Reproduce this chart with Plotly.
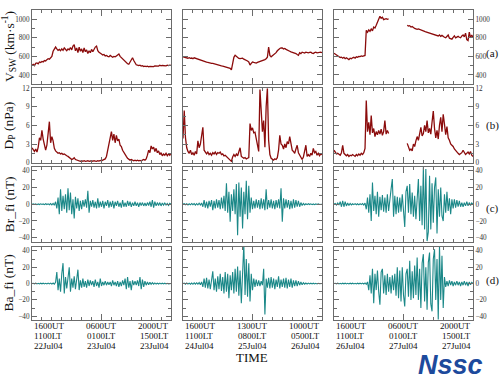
import plotly.graph_objects as go
import pandas as pd

# ---------------- data ----------------
col_start = ["2004-07-22 16:00", "2004-07-24 16:00", "2004-07-26 16:00"]
col_mid = ["2004-07-23 06:00", "2004-07-25 13:00", "2004-07-27 06:00"]
col_end = ["2004-07-23 20:00", "2004-07-26 10:00", "2004-07-27 20:00"]
minor_hours = [2, 3, 2]

ut_labels = [["1600UT", "0600UT", "2000UT"], ["1600UT", "1300UT", "1000UT"], ["1600UT", "0600UT", "2000UT"]]
lt_labels = [["1100LT", "0100LT", "1500LT"], ["1100LT", "0800LT", "0500LT"], ["1100LT", "0100LT", "1500LT"]]
date_labels = [["22Jul04", "23Jul04", "23Jul04"], ["24Jul04", "25Jul04", "26Jul04"], ["26Jul04", "27Jul04", "27Jul04"]]

row_titles = ["V<sub>SW</sub> (km·s<sup>-1</sup>)", "D<sub>P</sub> (nPa)", "Br_fi (nT)", "Ba_fi (nT)"]
row_tags = ["(a)", "(b)", "(c)", "(d)"]
row_ranges = [[300, 1100], [0, 12], [-45, 45], [-45, 45]]
row_ticks = [[400, 600, 800, 1000], [0, 3, 6, 9, 12], [-40, -20, 0, 20, 40], [-40, -20, 0, 20, 40]]
row_minor = [100, 1.5, 10, 10]

vsw_1 = [505, 515, 500, 525, 530, 520, 540, 535, 545, 540, 555, 550, 565, 575, 570, 590, 600, 655, 675, 700,
         680, 665, 675, 660, 680, 665, 690, 670, 660, 680, 670, 695, 670, 710, 725, 660, 690, 640, 700, 655,
         680, 640, 690, 650, 670, 630, 660, 640, 675, 650, 680, 700, 710, 660, 645, 630, 625, 615, 620, 605,
         610, 600, 595, 610, 600, 590, 600, 595, 605, 620, 625, 600, 585, 575, 560, 545, 530, 520, 515, 540,
         565, 585, 555, 530, 510, 505, 500, 505, 495, 500, 490, 495, 490, 495, 488, 492, 490, 495, 490, 498,
         495, 500, 495, 505, 498, 502, 500, 505, 498, 505, 500, 505, 502]
dp_1 = [2.4, 2.0, 1.8, 2.2, 1.7, 2.5, 4.0, 3.6, 5.2, 3.8, 3.0, 2.0, 2.8, 4.5, 6.6, 3.2, 4.2, 3.5, 2.3, 1.9,
        1.7, 1.5, 1.6, 1.4, 1.5, 1.3, 1.4, 1.2, 1.1, 1.0, 0.8, 0.7, 0.5, 0.6, 0.8, 0.5, 0.4, 0.3, 0.3, 0.2,
        0.3, 0.2, 0.3, 0.2, 0.25, 0.3, 0.2, 0.25, 0.3, 0.2, 0.3, 0.25, 0.2, 0.3, 0.25, 0.35, 0.3, 0.4, 0.5, 0.6,
        1.0, 2.0, 3.5, 4.0, 5.0, 3.6, 4.6, 3.2, 4.4, 3.5, 3.8, 2.8, 2.6, 2.0, 1.6, 1.2, 1.0, 0.7, 0.5, 0.4,
        0.5, 0.4, 0.3, 0.4, 0.3, 0.4, 0.3, 0.35, 0.3, 0.4, 0.5, 0.4, 0.6, 1.2, 2.0, 1.6, 2.7, 2.2, 2.5, 1.8,
        2.3, 1.6, 1.9, 1.3, 1.6, 1.1, 1.4, 1.2, 1.5, 1.1, 1.4, 1.2, 1.5]
br_1 = [0, 0.5, -0.3, 0.4, -0.5, 0.3, -0.4, 0.5, -0.3, 0.4, -0.5, 0.6, -0.4, 0.5, -0.6, 0.8, -0.7, 1.0, -1.2,
        3, -5, 8, -12, 18, -8, 10, -6, 12, -10, 19, -7, 14, -12, 6, -17, 9, -5, 7, -8, 4, -6, 5, -3, 6, -4,
        16, -10, 4, -3, 5, -4, 3, -5, 7, -4, 3, -3, 4, -5, 3, -2, 5, -4, 3, -3, 4, -5, 3, -2, 4, -3, 2, -4,
        5, -3, 2, -3, 4, -2, 3, -3, 2, -2, 3, -2, 2, -3, 2, -1.5, 2, -2, 1.5, -2, 2, -1.5, 3, -3, 5, -4, 3,
        -2, 2, -1.5, 2, -2, 1.5, -1, 1.5, -1, 1, -1.5, 1, 0]
ba_1 = [0, 0.4, -0.3, 0.5, -0.4, 0.3, -0.5, 0.4, -0.3, 0.5, -0.4, 0.3, -0.5, 0.6, -0.4, 0.5, -0.6, 0.7, -0.8, 1.5,
        14, -8, 6, -10, 12, 25, -12, 8, -6, 10, 20, -10, 6, -5, 9, -7, 5, 17, -8, 4, -5, 6, -4, 3, -5, 5,
        -3, 4, -2, 3, -4, 5, -3, 2, -5, 6, -3, 2, -2, 3, -2, 2, -1.5, 2, -3, 4, -2, 2, -3, 3, -4, 2, -3, 4,
        -2, 6, -7, 8, -5, 3, -8, 4, -2, 3, -2, 4, -3, 8, -7, 5, -4, 3, -2, 2, -1.5, 1.5, -1, 1, -0.8, 0.8,
        -0.6, 0.6, -0.5, 0.5, -0.5, 0.4, -0.5, 0.4, -0.4, 0.3, -0.4, 0.3, 0]

vsw_2 = [595, 590, 585, 588, 580, 585, 578, 582,
         575, 585, 580, 570, 565, 560, 555, 550,
         550, 545, 540, 538, 535, 530, 528, 525,
         525, 520, 515, 512, 510, 505, 500, 498,
         495, 490, 485, 482, 478, 475, 472, 455,
         540, 590, 612, 600, 585, 578, 575, 578,
         580, 570, 565, 560, 550, 540, 507, 525,
         540, 535, 530, 528, 535, 540, 548, 545,
         555, 560, 565, 575, 590, 700, 610, 595,
         605, 620, 630, 640, 660, 675, 685, 690,
         690, 680, 685, 675, 665, 660, 655, 648,
         645, 640, 635, 630, 620, 612, 640, 630,
         645, 640, 635, 645, 640, 638, 642, 645,
         635, 630, 640, 645, 638, 642, 640, 645, 640]
dp_2 = [3.9, 8.4, 4.0, 2.4, 1.8, 1.5, 2.0, 1.3, 1.6, 1.2, 1.8, 1.4, 3.5, 2.4, 3.0, 4.6, 5.7, 2.0, 1.6, 1.4,
        1.7, 1.3, 1.5, 1.2, 1.6, 1.4, 1.7, 1.3, 1.6, 1.5, 1.7, 1.3, 1.4, 1.1, 1.2, 1.0, 0.8, 0.6, 0.3, 0.2,
        0.9, 1.3, 1.0, 1.4, 1.1, 1.8, 2.4, 1.0, 0.8, 0.7, 0.8, 0.6, 0.7, 0.8, 6.3, 5.2, 5.6, 4.8, 4.9, 3.8,
        2.8, 1.8, 11.8, 8.0, 5.0, 6.8, 2.5, 9.0, 12.0, 3.6, 1.3, 0.7, 0.5, 0.4, 0.6, 0.5, 0.8, 2.0, 4.4, 3.0,
        2.8, 2.2, 3.0, 2.4, 3.4, 3.0, 4.2, 3.0, 2.0, 1.8, 1.5, 2.2, 2.8, 1.6, 1.2, 0.7, 0.5, 0.9, 1.8, 2.8,
        1.0, 1.3, 1.0, 1.5, 1.2, 2.3, 1.6, 1.8, 1.2, 1.5, 1.1, 1.4, 1.3]
br_2 = [0, 0.8, -0.6, 0.7, -0.8, 0.5, -0.7, 0.9, -0.6, 0.8, -1, 0.7, -0.9, 1.2, -1, 1.5,
        -3, 5, -4, 3, -5, 4, -3, 5, -7, 4, -5, 6, -4, 5, -6, 8, -5, 10, -8, 25, -10, 15, -21, 12,
        -8, 18, -12, 24, -37, 26, -15, 20, -29, 15, -12, 28, -18, 22, -10, 8, -6, 4, -5, 6, -4, 5,
        -6, 7, -5, 6, -7, 18, -6, 5, -4, 6, -5, 4, -6, 5, -4, 6, -5, 19, -21, 7, -5, 6, -4, 5, -6,
        4, -5, 6, -4, 5, -3, 4, -3, 2, -1.5,
        1, -0.8, 0.6, -0.5, 0.6, -0.4, 0.5, -0.5, 0.4, -0.5, 0.4, -0.3, 0.4, -0.3, 0.3, 0]
ba_2 = [0, 0.6, -0.7, 0.8, -0.6, 0.5, -0.8, 0.7, -0.9, 0.8, -0.7, 1, -0.8, 1.2, -1.5, 2,
        -4, 6, -5, 7, -6, 5, -7, 8, 15, -8, 6, -10, 9, -7, 12, -9, 8, -12, 14, -10, 12, -18, 10, -8,
        14, -12, 18, -10, 21, -15, 16, -24, 20, 48, -14, 30, -16, 25, -22, 12, -8, 6, -4, 5, -3, 4,
        -3, 3, -2, 18, -38, 6, -5, 7, -6, 8, -5, 6, -7, 5, -4, 9, -6, 5, -4, 6, -5, 7, -6, 5, -4,
        6, -5, 4, -3, 4, -3, 3, -2, 2, -1.5,
        1, -0.8, 0.7, -0.6, 0.5, -0.5, 0.4, -0.5, 0.4, -0.4, 0.3, -0.4, 0.3, -0.3, 0.3, 0]

gap = [None] * 14
vsw_3 = [634, 625, 609, 600, 595, 588, 592, 580, 590, 575, 585, 570, 565, 580, 575, 585, 590, 580, 595, 590,
         600, 598, 605, 600, 605, 610, 880, 860, 885, 870, 895, 875, 915, 905, 935, 960, 1000, 1030, 1010, 1020,
         995, 1000, 1005, 998, 1002] + gap + [
         935, 925, 930, 915, 920, 905, 900, 895, 890, 895, 888, 880, 878, 870, 868, 862, 858, 850, 848, 845,
         840, 835, 832, 828, 825, 820, 830, 815, 825, 810, 805, 800, 810, 830, 795, 790, 785, 805, 820, 800,
         810, 815, 805, 800, 820, 830, 810, 850, 780, 770, 860, 800, 830, 805]
dp_3 = [2.0, 1.6, 1.4, 1.5, 1.3, 1.2, 1.6, 2.8, 1.5, 1.2, 1.1, 1.3, 1.0, 1.2, 1.1, 1.3, 1.2, 1.0, 1.3, 1.1,
        1.4, 1.2, 1.5, 1.3, 1.6, 2.3, 10.0, 5.0, 6.5, 4.5, 7.6, 4.8, 5.5, 4.2, 5.0, 4.5, 5.2, 4.6, 5.4, 4.4,
        5.0, 6.8, 4.6, 5.2, 4.7] + gap + [
        3.1, 2.4, 2.0, 2.2, 1.9, 3.0, 2.6, 3.5, 4.2, 3.6, 5.0, 5.7, 4.3, 4.7, 6.0, 5.0, 6.8, 4.8, 5.5, 4.6,
        6.5, 8.3, 5.5, 4.0, 5.2, 3.8, 6.0, 7.3, 5.0, 7.8, 6.2, 4.5, 5.8, 4.0, 3.6, 3.0, 2.8, 2.6, 2.2, 1.9,
        1.8, 1.5, 1.3, 1.4, 1.6, 2.0, 1.6, 1.3, 1.5, 1.7, 1.4, 1.8, 1.2, 1.0]
br_3 = [0, 1, -1, 1.5, -1, 3, -3, 4, -3, 3, -2, 1.5, -1.5, 1,
        -0.8, 0.6, -0.5, 0.7, -0.6, 0.5, -0.7, 0.6, -0.5, 0.8, -1, 1.5,
        -6, 8, -10, 12, -20, 26, -8, 10, -12, 15, -15, 9, -7, 11, -9, 8, -10, 12, -8, 10, 18, 30, -15, 10,
        -12, 9, -10, 8, -9, 12, -14, -27, 15, 22, -10, 24, -12, 14, -15, 10, -18, 16, 30, -20, 22, -25, 44,
        -30, 42, -44, -33, 34, -30, 25, -22, 20, 32, -35, 18, -15, 20, -14, -20, 12, -10, 15, -8, 7, -12, 6,
        -5, 6, -4, 5, -3, 4, -3, 2, -3, 2, -2, 3, -2, 2, -1.5, 1.5, 0]
ba_3 = [0, 0.4, -0.3, 0.5, -0.4, 0.3, -0.5, 0.4, -0.3, 0.5, -0.4, 0.3, -0.5, 0.4, -0.3, 0.5, -0.4, 0.3, -0.5, 0.4,
        -0.3, 0.5, -0.4, 0.6, -0.5, 0.8, -1, 2,
        -8, 10, -12, 18, -24, 12, -8, 16, -10, -26, 14, 18, -12, 10, -14, 12, -10, 8, -12, 10, -8, 12,
        -15, 20, -18, 16, -22, 20, -14, -28, 12, 18, -16, 28, -20, 15, -18, 22, -14, 32, -20, 18, -30, 25,
        36, -22, 20, -32, 26, 38, -25, -34, 30, 42, -20, 30, -44, 46, -20, 34, -30, 8, -4, 3, -3, 4, -2, 3,
        -3, 2, -2, 3, -2, 2, -3, 2, -2, 3, -2, 2, -3, 2, -1.5, 1.5, 0]

series = [[vsw_1, vsw_2, vsw_3], [dp_1, dp_2, dp_3], [br_1, br_2, br_3], [ba_1, ba_2, ba_3]]
row_colors = ["#8b0c0c", "#8b0c0c", "#1b8888", "#1b8888"]
row_widths = [1.3, 1.3, 1.1, 1.1]

# ---------------- layout geometry ----------------
W, H = 500, 386
col_px = [(32, 171), (183, 322), (334, 473)]
row_px = [(7, 83), (87, 163), (167, 244), (249, 324)]
tag_y_px = [52, 125, 210, 283]
FONT = "Liberation Serif, Times New Roman, serif"
AX = "#6b6b6b"

fig = go.Figure()
layout = dict(width=W, height=H, margin=dict(l=0, r=0, t=0, b=0),
              paper_bgcolor="white", plot_bgcolor="white", showlegend=False,
              font=dict(family=FONT, color="#222"))
annotations = []

for r in range(4):
    for c in range(3):
        k = r * 3 + c + 1
        sx = "" if k == 1 else str(k)
        xa, ya = "x" + sx, "y" + sx
        vals = series[r][c]
        t = pd.date_range(col_start[c], col_end[c], periods=len(vals))
        fig.add_trace(go.Scatter(x=t, y=vals, mode="lines", xaxis=xa, yaxis=ya,
                                 line=dict(color=row_colors[r], width=row_widths[r]), connectgaps=False,
                                 hoverinfo="skip"))
        x0, x1 = col_px[c]
        y0, y1 = row_px[r]
        layout["xaxis" + sx] = dict(
            domain=[x0 / W, x1 / W], anchor=ya, type="date",
            range=[col_start[c], col_end[c]],
            tickmode="array", tickvals=[col_start[c], col_mid[c], col_end[c]],
            showticklabels=False, ticks="inside", ticklen=6, tickcolor=AX, tickwidth=1,
            minor=dict(ticks="inside", ticklen=3, tickcolor=AX, dtick=minor_hours[c] * 3600000,
                       tick0=col_start[c]),
            showline=True, linecolor=AX, linewidth=1, mirror="allticks",
            showgrid=False, zeroline=False, fixedrange=True)
        layout["yaxis" + sx] = dict(
            domain=[1 - y1 / H, 1 - y0 / H], anchor=xa,
            range=row_ranges[r], tickmode="array", tickvals=row_ticks[r],
            showticklabels=(c != 1), side="right" if c == 2 else "left",
            ticks="inside", ticklen=5, tickcolor=AX, tickwidth=1,
            minor=dict(ticks="inside", ticklen=3, tickcolor=AX, dtick=row_minor[r], tick0=0),
            tickfont=dict(size=7.2, color="#333", family=FONT),
            showline=True, linecolor=AX, linewidth=1, mirror="allticks",
            showgrid=False, zeroline=False, fixedrange=True)
    yc = 1 - (row_px[r][0] + row_px[r][1]) / 2 / H
    annotations.append(dict(text=row_titles[r], x=9 / W, y=yc, xref="paper", yref="paper",
                            textangle=-90, showarrow=False, xanchor="center", yanchor="middle",
                            font=dict(size=13.5, color="#111", family=FONT)))
    annotations.append(dict(text=row_tags[r], x=485 / W, y=1 - tag_y_px[r] / H, xref="paper", yref="paper",
                            showarrow=False, xanchor="left", yanchor="middle", borderpad=0,
                            font=dict(size=11, color="#111", family=FONT)))

for c in range(3):
    k = 9 + c + 1
    xr = "x" + str(k)
    poss = [col_start[c], col_mid[c], col_end[c]]
    anchors = ["left", "center", "right"]
    for j in range(3):
        for line, ypx in ((ut_labels, 330), (lt_labels, 340), (date_labels, 350.5)):
            annotations.append(dict(text=line[c][j], x=poss[j], y=1 - ypx / H, xref=xr, yref="paper",
                                    showarrow=False, xanchor=anchors[j], yanchor="middle",
                                    font=dict(size=9, color="#111", family=FONT)))

annotations.append(dict(text="TIME", x=252 / W, y=1 - 362 / H, xref="paper", yref="paper",
                        showarrow=False, xanchor="center", yanchor="middle",
                        font=dict(size=13, color="#111", family=FONT)))
annotations.append(dict(text="<b><i>Nssc</i></b>", x=450 / W, y=1 - 370 / H, xref="paper", yref="paper",
                        showarrow=False, xanchor="center", yanchor="middle", borderpad=0,
                        font=dict(size=27, color="#1d4a9c", family="Liberation Sans, Arial, sans-serif")))
layout["annotations"] = annotations
fig.update_layout(**layout)
fig.write_html("out.html", config={"displayModeBar": False, "staticPlot": True},
               post_script="document.body.style.margin='0';document.body.style.overflow='hidden';")
